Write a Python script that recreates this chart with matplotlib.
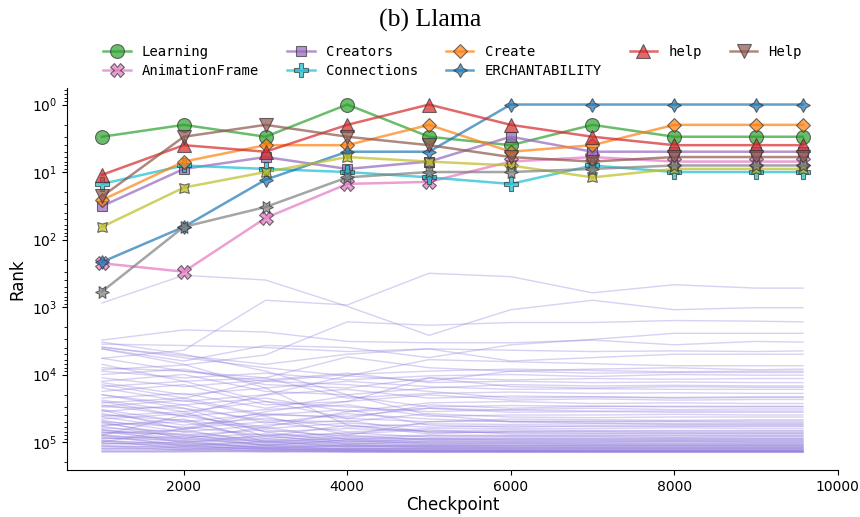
import numpy as np
import matplotlib
matplotlib.use("Agg")
import matplotlib.pyplot as plt

# ---------------- data ----------------
checkpoints = [1000, 2000, 3000, 4000, 5000, 6000, 7000, 8000, 9000, 9575]

series_names = ["Learning", "AnimationFrame", "Creators", "Connections", "Create",
                "ERCHANTABILITY", "help", "_olive", "Help", "_gray"]
series_colors = ["tab:green", "tab:pink", "tab:purple", "tab:cyan", "tab:orange",
                 "tab:blue", "tab:red", "tab:olive", "tab:brown", "tab:gray"]
series_markers = ["o", "X", (4, 0, 45), "P", (4, 0, 0),
                  (4, 1, 0), "^", (4, 1, 45), "v", (6, 1, 30)]

rank_learning = [3, 2, 3, 1, 3, 4, 2, 3, 3, 3]
rank_animationframe = [225, 300, 48, 15, 14, 7, 6, 7, 7, 7]
rank_creators = [32, 9, 6, 9, 7, 3, 5, 5, 5, 5]
rank_connections = [15, 8, 9, 10, 12, 15, 8, 10, 10, 10]
rank_create = [26, 7, 4, 4, 2, 5, 4, 2, 2, 2]
rank_erchantability = [215, 65, 13, 5, 5, 1, 1, 1, 1, 1]
rank_help_lower = [11, 4, 5, 2, 1, 2, 3, 4, 4, 4]
rank_olive = [65, 17, 10, 6, 7, 8, 12, 9, 9, 9]
rank_help_upper = [23, 3, 2, 3, 4, 6, 7, 6, 6, 6]
rank_gray = [590, 65, 33, 12, 10, 10, 9, 8, 8, 8]

series_ranks = [rank_learning, rank_animationframe, rank_creators, rank_connections,
                rank_create, rank_erchantability, rank_help_lower, rank_olive,
                rank_help_upper, rank_gray]

# background tokens: log10(rank) at each checkpoint
background_log_ranks = [
    [2.94, 2.53, 2.60, 2.99, 3.42, 3.04, 2.90, 3.04, 3.01, 3.01],
    [3.76, 3.64, 2.90, 2.97, 2.50, 2.55, 2.79, 2.67, 2.72, 2.72],
    [3.93, 3.86, 3.71, 3.22, 3.27, 3.23, 3.23, 3.20, 3.21, 3.22],
    [3.49, 3.34, 3.37, 3.51, 3.53, 3.53, 3.49, 3.56, 3.51, 3.52],
    [3.62, 3.80, 3.57, 3.60, 3.75, 3.56, 3.48, 3.39, 3.39, 3.39],
    [3.55, 3.57, 3.60, 3.66, 3.62, 3.64, 3.66, 3.65, 3.66, 3.65],
    [3.60, 3.72, 3.85, 3.70, 3.62, 3.80, 3.75, 3.70, 3.70, 3.70],
    [3.59, 3.75, 3.90, 4.02, 3.78, 3.81, 3.84, 3.87, 3.87, 3.87],
    [3.76, 3.95, 4.05, 3.74, 3.90, 3.95, 3.92, 3.90, 3.93, 3.92],
    [3.90, 3.95, 4.10, 4.00, 3.95, 3.92, 3.94, 3.96, 3.95, 3.95],
    [3.95, 4.05, 3.98, 4.08, 4.02, 4.00, 4.03, 4.00, 4.01, 4.01],
    [4.00, 3.92, 4.15, 4.20, 4.05, 4.08, 4.06, 4.07, 4.06, 4.06],
    [4.05, 4.18, 4.08, 3.98, 4.12, 4.10, 4.12, 4.11, 4.12, 4.12],
    [4.10, 4.00, 4.25, 4.30, 4.20, 4.15, 4.17, 4.16, 4.17, 4.17],
    [4.12, 4.30, 4.20, 4.10, 4.18, 4.22, 4.21, 4.22, 4.22, 4.22],
    [4.18, 4.10, 4.05, 4.35, 4.28, 4.26, 4.28, 4.27, 4.28, 4.28],
    [4.20, 4.40, 4.30, 4.22, 4.35, 4.32, 4.33, 4.34, 4.33, 4.33],
    [4.25, 4.15, 4.45, 4.40, 4.30, 4.38, 4.36, 4.38, 4.37, 4.37],
    [4.30, 4.45, 4.35, 4.55, 4.42, 4.40, 4.43, 4.42, 4.43, 4.43],
    [4.35, 4.28, 4.50, 4.32, 4.48, 4.46, 4.47, 4.48, 4.48, 4.48],
    [4.38, 4.55, 4.40, 4.48, 4.55, 4.52, 4.50, 4.52, 4.51, 4.51],
    [4.42, 4.35, 4.60, 4.62, 4.50, 4.56, 4.55, 4.56, 4.56, 4.56],
    [4.45, 4.62, 4.52, 4.45, 4.62, 4.60, 4.60, 4.59, 4.60, 4.60],
    [4.48, 4.50, 4.68, 4.70, 4.58, 4.63, 4.64, 4.63, 4.63, 4.63],
    [4.52, 4.70, 4.58, 4.65, 4.70, 4.66, 4.67, 4.68, 4.67, 4.67],
    [4.55, 4.45, 4.72, 4.58, 4.66, 4.70, 4.70, 4.70, 4.71, 4.71],
    [4.58, 4.75, 4.65, 4.78, 4.73, 4.74, 4.73, 4.74, 4.74, 4.74],
    [4.60, 4.68, 4.80, 4.72, 4.78, 4.76, 4.77, 4.77, 4.77, 4.77],
    [4.63, 4.80, 4.70, 4.85, 4.80, 4.80, 4.80, 4.79, 4.80, 4.80],
    [4.66, 4.58, 4.85, 4.80, 4.84, 4.82, 4.83, 4.83, 4.83, 4.83],
    [4.68, 4.85, 4.75, 4.68, 4.86, 4.85, 4.85, 4.86, 4.86, 4.86],
    [4.70, 4.78, 4.90, 4.88, 4.82, 4.88, 4.88, 4.88, 4.88, 4.88],
    [4.72, 4.90, 4.82, 4.92, 4.90, 4.90, 4.90, 4.90, 4.90, 4.90],
    [4.75, 4.70, 4.95, 4.86, 4.93, 4.92, 4.92, 4.93, 4.92, 4.92],
    [4.77, 4.93, 4.88, 4.96, 4.95, 4.94, 4.94, 4.94, 4.94, 4.94],
    [4.79, 4.85, 4.98, 4.90, 4.97, 4.96, 4.96, 4.96, 4.96, 4.96],
    [4.81, 4.96, 4.92, 4.99, 4.98, 4.98, 4.98, 4.98, 4.98, 4.98],
    [4.83, 4.90, 5.00, 4.95, 5.00, 5.00, 5.00, 4.99, 5.00, 5.00],
    [4.85, 4.98, 4.95, 5.02, 5.01, 5.01, 5.01, 5.01, 5.01, 5.01],
    [4.87, 4.82, 5.02, 4.98, 5.03, 5.02, 5.03, 5.03, 5.03, 5.03],
    [4.89, 5.00, 4.97, 5.04, 5.04, 5.04, 5.04, 5.04, 5.04, 5.04],
    [4.91, 4.95, 5.04, 5.01, 5.05, 5.05, 5.05, 5.05, 5.05, 5.05],
    [4.93, 5.03, 5.00, 5.06, 5.06, 5.06, 5.06, 5.06, 5.06, 5.06],
    [4.95, 4.92, 5.06, 5.04, 5.07, 5.07, 5.07, 5.07, 5.07, 5.07],
    [4.97, 5.05, 5.03, 5.08, 5.08, 5.08, 5.08, 5.08, 5.08, 5.08],
    [4.99, 5.02, 5.08, 5.06, 5.09, 5.09, 5.09, 5.09, 5.09, 5.09],
    [5.01, 5.07, 5.05, 5.10, 5.10, 5.10, 5.10, 5.10, 5.10, 5.10],
    [5.03, 5.00, 5.10, 5.09, 5.11, 5.11, 5.11, 5.11, 5.11, 5.11],
    [5.05, 5.09, 5.08, 5.11, 5.12, 5.12, 5.12, 5.12, 5.12, 5.12],
    [5.07, 5.06, 5.11, 5.12, 5.13, 5.13, 5.13, 5.13, 5.13, 5.13],
    [5.09, 5.11, 5.10, 5.13, 5.13, 5.13, 5.14, 5.14, 5.14, 5.14],
    [5.11, 5.12, 5.13, 5.14, 5.14, 5.14, 5.14, 5.14, 5.14, 5.14],
    [5.13, 5.13, 5.14, 5.14, 5.15, 5.15, 5.15, 5.15, 5.15, 5.15],
    [5.15, 5.14, 5.15, 5.15, 5.15, 5.15, 5.15, 5.15, 5.15, 5.15],
    [3.52, 3.70, 3.95, 4.30, 4.60, 4.70, 4.72, 4.73, 4.73, 4.73],
    [3.62, 3.85, 4.20, 4.75, 4.85, 4.86, 4.87, 4.87, 4.87, 4.87],
    [4.90, 4.60, 4.30, 4.02, 4.10, 3.95, 3.98, 3.97, 3.97, 3.97],
    [5.00, 4.80, 4.55, 4.40, 4.05, 4.18, 4.20, 4.18, 4.19, 4.19],
    [4.40, 4.62, 4.78, 4.55, 4.50, 4.53, 4.54, 4.54, 4.54, 4.54],
    [4.47, 4.38, 4.62, 4.90, 4.70, 4.69, 4.69, 4.69, 4.69, 4.69],
    [4.53, 4.82, 4.60, 4.52, 4.75, 4.78, 4.76, 4.76, 4.76, 4.76],
    [4.62, 4.55, 4.92, 4.75, 4.88, 4.84, 4.84, 4.84, 4.84, 4.84],
    [4.70, 4.95, 4.78, 4.96, 4.91, 4.91, 4.91, 4.91, 4.91, 4.91],
    [4.76, 4.66, 5.00, 4.93, 4.96, 4.95, 4.95, 4.95, 4.95, 4.95],
    [4.82, 5.01, 4.90, 5.03, 4.99, 4.99, 4.99, 4.99, 4.99, 4.99],
    [4.86, 4.88, 5.05, 4.97, 5.02, 5.02, 5.02, 5.02, 5.02, 5.02],
    [4.90, 5.06, 4.99, 5.07, 5.05, 5.05, 5.05, 5.05, 5.05, 5.05],
    [4.94, 4.98, 5.09, 5.05, 5.07, 5.08, 5.08, 5.08, 5.08, 5.08],
    [4.98, 5.10, 5.06, 5.11, 5.09, 5.10, 5.10, 5.10, 5.10, 5.10],
    [5.02, 5.04, 5.12, 5.10, 5.11, 5.12, 5.12, 5.12, 5.12, 5.12],
    [5.06, 5.12, 5.09, 5.13, 5.13, 5.13, 5.13, 5.13, 5.13, 5.13],
    [5.10, 5.08, 5.14, 5.12, 5.14, 5.14, 5.14, 5.14, 5.14, 5.14],
    [5.14, 5.15, 5.12, 5.15, 5.15, 5.15, 5.15, 5.15, 5.15, 5.15],
    [4.30, 4.50, 4.85, 5.00, 4.95, 4.97, 4.97, 4.97, 4.97, 4.97],
    [3.85, 4.10, 4.40, 4.65, 4.45, 4.50, 4.47, 4.47, 4.47, 4.47],
    [4.15, 4.35, 4.10, 4.15, 4.25, 4.35, 4.33, 4.35, 4.34, 4.34],
]

# ---------------- plot ----------------
fig = plt.figure(figsize=(8.6, 5.17), dpi=100)
ax = fig.add_axes([67 / 860, 47 / 517, 771 / 860, 382 / 517])

for row in background_log_ranks:
    ax.plot(checkpoints, [10 ** v for v in row], color="#8f78dc",
            alpha=0.34, lw=1.0, zorder=1)

for name, color, marker, ranks in zip(series_names, series_colors,
                                      series_markers, series_ranks):
    ax.plot(checkpoints, ranks, color=color, lw=1.8, alpha=0.7,
            marker=marker, markersize=10, markeredgecolor="#333333",
            markeredgewidth=0.8, label=name, zorder=3)

ax.set_yscale("log")
ax.set_ylim(10 ** 5.415, 10 ** -0.245)
ax.set_xlim(571, 10004)
ax.set_xticks([2000, 4000, 6000, 8000, 10000])

ax.spines["top"].set_visible(False)
ax.spines["right"].set_visible(False)
ax.tick_params(labelsize=10)
ax.set_xlabel("Checkpoint", fontsize=12, labelpad=2)
ax.set_ylabel("Rank", fontsize=12)

leg = ax.legend(loc="lower center", bbox_to_anchor=(0.5, 1.0), ncol=5,
                frameon=False, prop={"family": "DejaVu Sans Mono", "size": 10},
                columnspacing=2.0, handletextpad=0.8, labelspacing=0.4,
                borderaxespad=0.3)

fig.suptitle("(b) Llama", fontsize=18.5, family="Liberation Serif", y=0.982)

fig.savefig("out.png", dpi=100)
